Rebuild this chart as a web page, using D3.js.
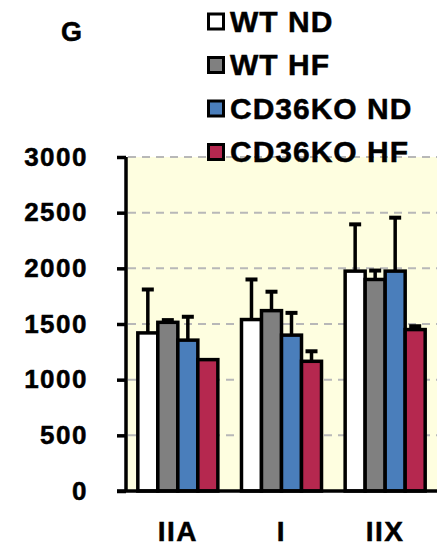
<!DOCTYPE html>
<html>
<head>
  <meta charset="utf-8">
  <script src="https://cdn.jsdelivr.net/npm/d3@7"></script>
  <style>
    body { margin: 0; background: #fff; }
    text { font-family: "Liberation Sans", Arial, sans-serif; font-weight: bold; fill: #000;
           stroke: #000; stroke-width: 0.5px; }
  </style>
</head>
<body>
  <div id="chart"></div>
  <script>
    // data
    var fibreTypes = ["IIA", "I", "IIX"];
    var groups = ["WT ND", "WT HF", "CD36KO ND", "CD36KO HF"];
    var groupColors = ["#ffffff", "#808080", "#4a7ebb", "#b5284f"];
    var meanIIA = [1420, 1515, 1355, 1180];
    var meanI = [1540, 1620, 1400, 1165];
    var meanIIX = [1975, 1900, 1975, 1450];
    var errIIA = [390, 20, 210, 0];
    var errI = [360, 170, 200, 90];
    var errIIX = [420, 80, 480, 30];
    var yTicks = [0, 500, 1000, 1500, 2000, 2500, 3000];

    var means = [meanIIA, meanI, meanIIX];
    var errs = [errIIA, errI, errIIX];

    var W = 442, H = 560;
    var svg = d3.select("#chart").append("svg").attr("width", W).attr("height", H);

    var x0 = d3.scaleBand().domain(fibreTypes).range([126, 437])
      .paddingInner(0.228).paddingOuter(0.114);
    var x1 = d3.scaleBand().domain(groups).range([0, x0.bandwidth()]);
    var y = d3.scaleLinear().domain([0, 3000]).range([491, 157]);

    // plot background
    svg.append("rect")
      .attr("x", 126).attr("y", y(3000))
      .attr("width", 437 - 126).attr("height", y(0) - y(3000))
      .attr("fill", "#fefee0");

    // dashed grid
    svg.selectAll(".grid").data(yTicks.filter(d => d > 0)).enter()
      .append("line")
      .attr("x1", 128).attr("x2", 437)
      .attr("y1", d => y(d)).attr("y2", d => y(d))
      .attr("stroke", "#b8b8b8").attr("stroke-width", 2)
      .attr("stroke-dasharray", "8,6");

    // bars
    var rows = [];
    fibreTypes.forEach(function (f, i) {
      groups.forEach(function (g, j) {
        rows.push({ f: f, g: g, c: groupColors[j], v: means[i][j], e: errs[i][j] });
      });
    });

    var bars = svg.append("g");
    bars.selectAll("rect").data(rows).enter().append("rect")
      .attr("x", d => x0(d.f) + x1(d.g))
      .attr("y", d => y(d.v))
      .attr("width", x1.bandwidth())
      .attr("height", d => y(0) - y(d.v))
      .attr("fill", d => d.c)
      .attr("stroke", "#000").attr("stroke-width", 3.5);

    // error bars (upper only)
    var eb = svg.append("g").attr("stroke", "#000");
    eb.selectAll("line.v").data(rows.filter(d => d.e > 0)).enter().append("line")
      .attr("x1", d => x0(d.f) + x1(d.g) + x1.bandwidth() / 2)
      .attr("x2", d => x0(d.f) + x1(d.g) + x1.bandwidth() / 2)
      .attr("y1", d => y(d.v)).attr("y2", d => y(d.v + d.e))
      .attr("stroke-width", 3.5);
    eb.selectAll("line.c").data(rows.filter(d => d.e > 0)).enter().append("line")
      .attr("x1", d => x0(d.f) + x1(d.g) + x1.bandwidth() / 2 - 6)
      .attr("x2", d => x0(d.f) + x1(d.g) + x1.bandwidth() / 2 + 6)
      .attr("y1", d => y(d.v + d.e)).attr("y2", d => y(d.v + d.e))
      .attr("stroke-width", 4);

    // y axis
    var yAxis = svg.append("g").attr("transform", "translate(126,0)")
      .call(d3.axisLeft(y).tickValues(yTicks).tickFormat(d3.format("d"))
        .tickSize(9).tickPadding(29));
    yAxis.selectAll("line").attr("stroke", "#000").attr("stroke-width", 3.5);
    yAxis.select(".domain").attr("stroke", "#000").attr("stroke-width", 3.5)
      .attr("d", "M0," + y(3000) + "V" + y(0));
    yAxis.selectAll("text")
      .style("font-family", "'Liberation Sans', Arial, sans-serif")
      .style("font-weight", "bold").style("font-size", "26px")
      .style("letter-spacing", "1.5px").attr("fill", "#000");

    // x axis
    var xAxis = svg.append("g").attr("transform", "translate(0," + y(0) + ")")
      .call(d3.axisBottom(x0).tickSize(0).tickPadding(30));
    xAxis.select(".domain").attr("stroke", "#000").attr("stroke-width", 3.5)
      .attr("d", "M117,0H437");
    xAxis.selectAll("text")
      .style("font-family", "'Liberation Sans', Arial, sans-serif")
      .style("font-weight", "bold").style("font-size", "28px")
      .style("letter-spacing", "1.5px").attr("fill", "#000");

    // panel letter
    svg.append("text").attr("x", 61).attr("y", 41)
      .style("font-size", "27px").text("G");

    // legend
    var leg = svg.append("g").selectAll("g").data(groups).enter().append("g")
      .attr("transform", (d, i) => "translate(207," + (31.5 + i * 43.5) + ")");
    leg.append("rect")
      .attr("x", 1.5).attr("y", -17.5).attr("width", 15).attr("height", 15)
      .attr("fill", (d, i) => groupColors[i])
      .attr("stroke", "#000").attr("stroke-width", 3);
    leg.append("text").attr("x", 23).attr("y", 0)
      .style("font-size", "30px").style("letter-spacing", "1px")
      .text(d => d);
  </script>
</body>
</html>
